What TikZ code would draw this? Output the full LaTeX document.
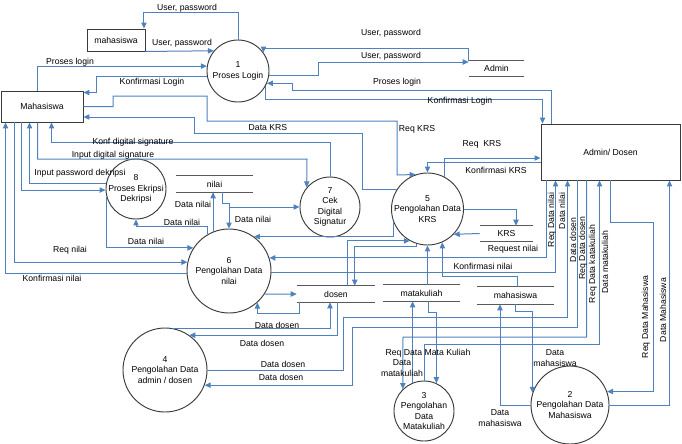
\documentclass[tikz,border=0pt]{standalone}
\usepackage{fontspec}
\setmainfont{Liberation Sans}
\usetikzlibrary{calc, arrows.meta}
\definecolor{flowblue}{HTML}{4F81BD}
\definecolor{shapegray}{HTML}{3A3A3A}
\newcommand{\dfdfont}{\fontsize{6.5}{7.9}\selectfont}
\tikzset{
  dfd/entity/.style={draw=shapegray, line width=0.7pt, inner sep=0pt, align=center},
  dfd/proc/.style={draw=shapegray, line width=0.7pt, circle, inner sep=-4pt, align=center},
  dfd/sline/.style={draw=black!65, line width=0.9pt},
  dfd/store/.style={inner sep=0pt, minimum height=12pt, append after command={
      (\tikzlastnode.north west) edge[dfd/sline] (\tikzlastnode.north east)
      (\tikzlastnode.south west) edge[dfd/sline] (\tikzlastnode.south east)}},
  dfd/flow/.style={draw=flowblue, line width=0.75pt, -{Triangle[length=4.5pt, width=4pt]}},
  dfd/lbl/.style={inner sep=0.5pt, align=center},
  dfd/vlbl/.style={dfd/lbl, rotate=90},
}

\begin{document}
\begin{tikzpicture}[x=0.75pt, y=-0.75pt, font=\dfdfont]
  \useasboundingbox (0,0) rectangle (682,443);

  % Entitas
  \node[dfd/entity, minimum width=61.5pt, minimum height=23.25pt] (mhs) at (42,106.5) {Mahasiswa};
  \node[dfd/entity, minimum width=43.5pt, minimum height=16.5pt] (mhsdb) at (116,40) {mahasiswa};
  \node[dfd/entity, minimum width=104.25pt, minimum height=42pt] (admin) at (610.5,152) {Admin/ Dosen};

  % Proses
  \node[dfd/proc, minimum size=46.5pt] (c1) at (238,71) {1\\Proses Login};
  \node[dfd/proc, minimum size=45pt] (c8) at (136,189) {8\\Proses Ekripsi\\Dekripsi};
  \node[dfd/proc, minimum size=45pt] (c7) at (330,207) {7\\Cek\\Digital\\Signatur};
  \node[dfd/proc, minimum size=54pt] (c5) at (427.5,209) {5\\Pengolahan Data\\KRS};
  \node[dfd/proc, minimum size=63pt] (c6) at (229,271) {6\\Pengolahan Data\\nilai};
  \node[dfd/proc, minimum size=63pt] (c4) at (165,370) {4\\Pengolahan Data\\admin / dosen};
  \node[dfd/proc, minimum size=45pt] (c3) at (424,411) {3\\Pengolahan\\Data\\Matakuliah};
  \node[dfd/proc, minimum size=58.5pt] (c2) at (570,405) {2\\Pengolahan Data\\Mahasiswa};

  % Data store
  \node[dfd/store, minimum width=41.25pt, minimum height=11.6pt] (admindb) at (496.5,68.5) {Admin};
  \node[dfd/store, minimum width=57.75pt] (nilaidb) at (214.5,184) {nilai};
  \node[dfd/store, minimum width=39.75pt, minimum height=11.25pt] (krsdb) at (506.5,233.5) {KRS};
  \node[dfd/store, minimum width=58.5pt] (dosendb) at (336,294) {dosen};
  \node[dfd/store, minimum width=57.75pt] (mkdb) at (421.5,293) {matakuliah};
  \node[dfd/store, minimum width=57.75pt, minimum height=12.75pt] (mhsstore) at (515.5,295.5) {mahasiswa};

  % Login
  \draw[dfd/flow] (c1.north) -- ++(0,-27) -| ($(mhsdb.north east)+(-1.5,0)$);
  \draw[dfd/flow] (mhsdb.south east) -- (c1.140);
  \draw[dfd/flow] ($(mhs.north west)+(37,0)$) |- (c1.171);
  \draw[dfd/flow] (c1.190) -| ($(mhs.north east)+(13,2)$) -- ($(mhs.north east)+(0,2)$);
  \draw[dfd/flow] (admindb.north west) -- ++(0,-12) -| (c1.36);
  \draw[dfd/flow] (c1.-9) -- ++(49,0) |- ($(admindb.north west)+(0,1.5)$);
  \draw[dfd/flow] ($(admin.north west)+(11,0)$) |- (292,90) |- (c1.-23);
  \draw[dfd/flow] (c1.-29) |- ($(admin.north west)+(2,-24)$) -- ($(admin.north west)+(2,0)$);

  % KRS
  \draw[dfd/flow] (mhs.east) -| (113,96) -| (207,121) -| (397,175) -- (c5.109);
  \draw[dfd/flow] (c5.148) -| (362,133) -| (194,117) -- ($(mhs.east)+(0,10.5)$);
  \draw[dfd/flow] (c5.east) -| ($(krsdb.north)+(9.5,0)$);
  \draw[dfd/flow] (krsdb.west) -- (c5.-44);
  \draw[dfd/flow] ($(admin.west)+(0,10)$) -| (c5.north);
  \draw[dfd/flow] (c5.62) |- ($(admin.west)+(0,6)$);

  % Digital signature
  \draw[dfd/flow] (c7.north) |- ($(mhs.south west)+(51,20)$) -- ($(mhs.south west)+(51,0)$);
  \draw[dfd/flow] ($(mhs.south west)+(37,0)$) |- (307,159) -- (c7.140);
  \draw[dfd/flow] (c8.170) -| ($(mhs.south west)+(29,0)$);
  \draw[dfd/flow] ($(mhs.south west)+(21,0)$) |- (c8.182);

  % Nilai
  \draw[dfd/flow] ($(mhs.south west)+(14,0)$) |- (c6.168);
  \draw[dfd/flow] (c6.183) -| ($(mhs.south west)+(5,0)$);
  \draw[dfd/flow] (c8.195) |- (c6.147);
  \draw[dfd/flow] (c6.120) -- ++(0,-8) -| (c8.south);
  \draw[dfd/flow] (c6.112) -- (c6.112 |- nilaidb.south);
  \draw[dfd/flow] ($(nilaidb.south)+(7.5,0)$) -- ++(0,11) -| (c6.north);
  \draw[dfd/flow] (c6.north |- c7.west) -- (c7.west);
  \draw[dfd/flow] (c5.200) |- (c6.54);
  \draw[dfd/flow] ($(admin.south west)+(6,0)$) |- (c6.18);
  \draw[dfd/flow] (c6.-2) -| ($(admin.south west)+(15,0)$);

  % Dosen
  \draw[dfd/flow] (c6.-33) -- (dosendb.west);
  \draw[dfd/flow] ($(dosendb.south west)+(3,0)$) -- ++(0,11) -| (c6.-48);
  \draw[dfd/flow] ($(dosendb.north west)+(51,0)$) |- (c5.241);
  \draw[dfd/flow] (c5.252) -- ++(0,3) -| ($(dosendb.north west)+(58,0)$);
  \draw[dfd/flow] (c4.80) -| ($(dosendb.south)+(-6,0)$);
  \draw[dfd/flow] ($(dosendb.south)+(1,0)$) |- (c4.55);
  \draw[dfd/flow] (c4.east) -| (343,317) -| ($(admin.south west)+(27,0)$);
  \draw[dfd/flow] ($(admin.south west)+(37,0)$) |- (352,327) |- (c4.-21);

  % Matakuliah
  \draw[dfd/flow] ($(admin.south west)+(46,0)$) |- (403,337) -- (c3.134);
  \draw[dfd/flow] (c3.north) -- ++(0,-36) -| ($(admin.south west)+(59,0)$);
  \draw[dfd/flow] (c3.112) -- (c3.112 |- mkdb.south);
  \draw[dfd/flow] ($(mkdb.south)+(6.5,0)$) -- ++(0,11) -| (c3.66);
  \draw[dfd/flow] (mkdb.north -| c5.south) -- (c5.south);

  % Mahasiswa
  \draw[dfd/flow] ($(mhsstore.north)+(1.5,0)$) -- ++(0,-10) -| (c5.-66);
  \draw[dfd/flow] (mhsstore.south) -- ++(0,7) -| (c2.162);
  \draw[dfd/flow] (c2.west) -| ($(mhsstore.south)+(-15.5,0)$);
  \draw[dfd/flow] ($(admin.south west)+(70,0)$) |- (653,222) |- (c2.20);
  \draw[dfd/flow] (c2.-1) -| ($(admin.south west)+(129,0)$);

  % Label
  \node[dfd/lbl] (lup1) at (187,8) {User, password};
  \node[dfd/lbl] (lup2) at (182,43) {User, password};
  \node[dfd/lbl] (lpl1) at (70,62) {Proses login};
  \node[dfd/lbl] (lkl1) at (152,82) {Konfirmasi Login};
  \node[dfd/lbl] (lup3) at (391,33) {User, password};
  \node[dfd/lbl] (lup4) at (391,56) {User, password};
  \node[dfd/lbl] (lpl2) at (397,82) {Proses login};
  \node[dfd/lbl] (lkl2) at (460,101) {Konfirmasi Login};
  \node[dfd/lbl] (lkrs1) at (268,128) {Data KRS};
  \node[dfd/lbl] (lkrs2) at (417,129) {Req KRS};
  \node[dfd/lbl] (lkrs3) at (482,144) {Req\ \ KRS};
  \node[dfd/lbl] (lkrs4) at (496,170) {Konfirmasi KRS};
  \node[dfd/lbl] (lds1) at (133,142) {Konf digital signature};
  \node[dfd/lbl] (lds2) at (113,155) {Input digital signature};
  \node[dfd/lbl] (lpd) at (80,173) {Input password dekripsi};
  \node[dfd/lbl] (ln1) at (193,204) {Data nilai};
  \node[dfd/lbl] (ln2) at (253,219) {Data nilai};
  \node[dfd/lbl] (ln3) at (182,222) {Data nilai};
  \node[dfd/lbl] (ln4) at (146,241) {Data nilai};
  \node[dfd/lbl] (lreqn) at (70,250) {Req nilai};
  \node[dfd/lbl] (lkn1) at (52,278) {Konfirmasi nilai};
  \node[dfd/lbl] (lreqn2) at (513,249) {Request nilai};
  \node[dfd/lbl] (lkn2) at (483,266) {Konfirmasi nilai};
  \node[dfd/lbl] (ld1) at (277,325) {Data dosen};
  \node[dfd/lbl] (ld2) at (262,343) {Data dosen};
  \node[dfd/lbl] (ld3) at (283,364) {Data dosen};
  \node[dfd/lbl] (ld4) at (281,377) {Data dosen};
  \node[dfd/lbl] (lmk1) at (428,353) {Req Data Mata Kuliah};
  \node[dfd/lbl] (lmk2) at (402,368) {Data\\matakuliah};
  \node[dfd/lbl] (lmhs1) at (555,358) {Data\\mahasiswa};
  \node[dfd/lbl] (lmhs2) at (500,418) {Data\\mahasiswa};
  \node[dfd/vlbl] (lv1) at (552,220) {Req Data nilai};
  \node[dfd/vlbl] (lv2) at (562,211) {Data nilai};
  \node[dfd/vlbl] (lv3) at (573,240) {Data dosen};
  \node[dfd/vlbl] (lv4) at (583,248) {Req Data dosen};
  \node[dfd/vlbl] (lv5) at (593,264) {Req Data katakuliah};
  \node[dfd/vlbl] (lv6) at (605,262) {Data matakuliah};
  \node[dfd/vlbl] (lv7) at (646,317) {Req Data Mahasiswa};
  \node[dfd/vlbl] (lv8) at (663,310) {Data Mahasiswa};

\end{tikzpicture}
\end{document}
